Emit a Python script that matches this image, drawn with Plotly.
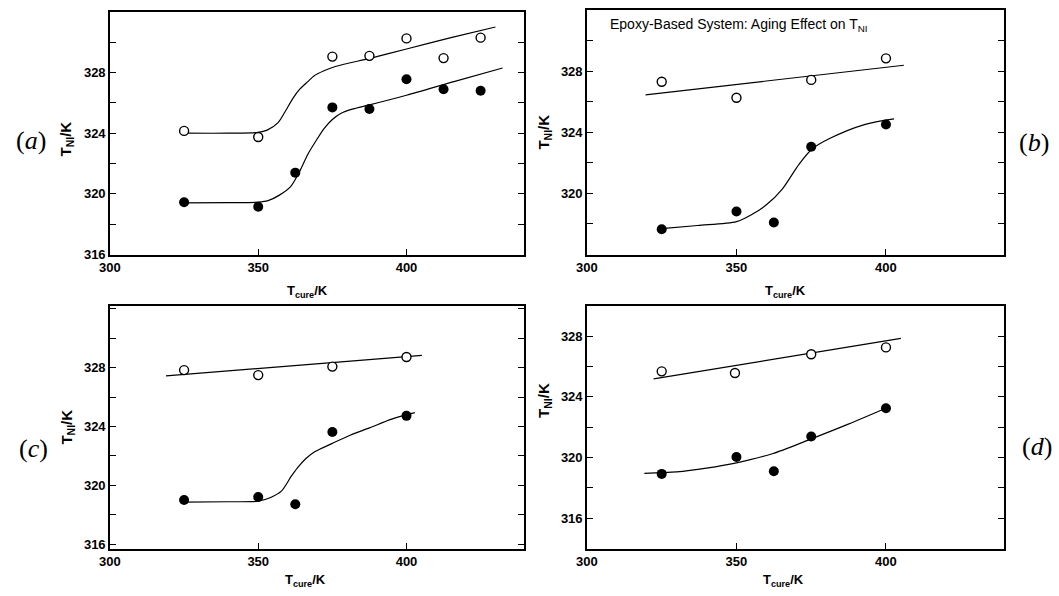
import plotly.graph_objects as go

W, H = 1059, 596

# ---------------- data ----------------
# panel (a)
a_open_x = [325, 350, 375, 387.5, 400, 412.5, 425]
a_open_y = [324.15, 323.75, 329.05, 329.1, 330.25, 328.95, 330.3]
a_fill_x = [325, 350, 362.5, 375, 387.5, 400, 412.5, 425]
a_fill_y = [319.45, 319.15, 321.4, 325.7, 325.6, 327.55, 326.9, 326.8]
a_fit_up_x = [325, 340, 350, 353, 356.7, 359, 361.7, 364, 366.7, 369, 372, 376, 388, 400, 415, 430]
a_fit_up_y = [324.0, 324.0, 324.05, 324.2, 324.7, 325.4, 326.3, 326.9, 327.4, 327.8, 328.1, 328.4,
              328.95, 329.55, 330.3, 331.0]
a_fit_lo_x = [325, 340, 350, 353.3, 357, 361, 364, 366.7, 369.5, 372.2, 375, 377.8, 382, 387.2, 400, 416, 432.4]
a_fit_lo_y = [319.4, 319.42, 319.45, 319.55, 319.9, 320.5, 321.5, 322.6, 323.5, 324.3, 324.9, 325.3,
              325.6, 325.85, 326.5, 327.4, 328.3]

# panel (b)
b_open_x = [325, 350, 375, 400]
b_open_y = [327.3, 326.25, 327.42, 328.83]
b_fill_x = [325, 350, 362.5, 375, 400]
b_fill_y = [317.65, 318.82, 318.1, 323.05, 324.5]
b_fit_up_x = [319.6, 406]
b_fit_up_y = [326.44, 328.38]
b_fit_lo_x = [325, 337, 350, 355, 360, 365.4, 370.9, 375.3, 381.3, 392.8, 402.7]
b_fit_lo_y = [317.7, 317.9, 318.15, 318.6, 319.25, 320.3, 321.9, 322.9, 323.6, 324.5, 324.87]

# panel (c)
c_open_x = [325, 350, 375, 400]
c_open_y = [327.83, 327.49, 328.07, 328.72]
c_fill_x = [325, 350, 362.5, 375, 400]
c_fill_y = [319.0, 319.2, 318.71, 323.62, 324.72]
c_fit_up_x = [318.9, 405.2]
c_fit_up_y = [327.44, 328.83]
c_fit_lo_x = [325, 340, 350, 354, 357.8, 361.1, 363.3, 366, 368.9, 375, 381, 387.5, 395, 402.8]
c_fit_lo_y = [318.85, 318.88, 318.92, 319.15, 319.6, 320.6, 321.2, 321.8, 322.26, 322.85, 323.4,
              323.9, 324.5, 324.94]

# panel (d)
d_open_x = [325, 349.5, 375, 400]
d_open_y = [325.68, 325.57, 326.81, 327.26]
d_fill_x = [325, 350, 362.5, 375, 400]
d_fill_y = [318.92, 320.04, 319.1, 321.39, 323.25]
d_fit_up_x = [322.3, 405]
d_fit_up_y = [325.18, 327.85]
d_fit_lo_x = [319.2, 330, 340, 350, 362, 374, 387.4, 400.5]
d_fit_lo_y = [318.95, 319.05, 319.3, 319.65, 320.25, 321.15, 322.2, 323.3]

x_ticks = [300, 350, 400]
y_ranges = {"a": [316, 332], "b": [316, 332], "c": [315.7, 332.2], "d": [314, 330]}
y_labels = {"a": [316, 320, 324, 328], "b": [320, 324, 328],
            "c": [316, 320, 324, 328], "d": [316, 320, 324, 328]}
panel_labels = ["a", "b", "c", "d"]
annot_text = "Epoxy-Based System: Aging Effect on T<sub>NI</sub>"

# ---------------- layout geometry (pixels) ----------------
boxes = {  # left, right, top, bottom in px
    "a": (100, 518, 12, 258),
    "b": (582, 1003.5, 10, 258),
    "c": (100, 518, 310, 556),
    "d": (582, 1003.5, 310, 556),
}

panels = {
    "a": (a_open_x, a_open_y, a_fill_x, a_fill_y, a_fit_up_x, a_fit_up_y, a_fit_lo_x, a_fit_lo_y),
    "b": (b_open_x, b_open_y, b_fill_x, b_fill_y, b_fit_up_x, b_fit_up_y, b_fit_lo_x, b_fit_lo_y),
    "c": (c_open_x, c_open_y, c_fill_x, c_fill_y, c_fit_up_x, c_fit_up_y, c_fit_lo_x, c_fit_lo_y),
    "d": (d_open_x, d_open_y, d_fill_x, d_fill_y, d_fit_up_x, d_fit_up_y, d_fit_lo_x, d_fit_lo_y),
}

fig = go.Figure()
tickfont = dict(family="Liberation Sans, Arial, sans-serif", size=13, color="black", weight="bold")
layout = {}

for i, key in enumerate(panel_labels):
    n = i + 1
    xa = "x" if n == 1 else f"x{n}"
    ya = "y" if n == 1 else f"y{n}"
    ox, oy, fx, fy, ux, uy, lx, ly = panels[key]
    line = dict(color="black", width=1.2, shape="spline", smoothing=0.8)
    fig.add_trace(go.Scatter(x=ux, y=uy, mode="lines", line=line, xaxis=xa, yaxis=ya, showlegend=False))
    fig.add_trace(go.Scatter(x=lx, y=ly, mode="lines", line=line, xaxis=xa, yaxis=ya, showlegend=False))
    fig.add_trace(go.Scatter(x=ox, y=oy, mode="markers", xaxis=xa, yaxis=ya, showlegend=False,
                             marker=dict(symbol="circle", size=9, color="white",
                                         line=dict(color="black", width=1.4))))
    fig.add_trace(go.Scatter(x=fx, y=fy, mode="markers", xaxis=xa, yaxis=ya, showlegend=False,
                             marker=dict(symbol="circle", size=10, color="black",
                                         line=dict(color="black", width=0))))

    l, r, t, b = boxes[key]
    yr = y_ranges[key]
    yt = list(range(int(yr[0]) + (int(yr[0]) % 2), int(yr[1]) + 1, 2))
    yt = [v for v in yt if yr[0] <= v <= yr[1]]
    ytext = [str(v) if v in y_labels[key] else "" for v in yt]
    layout["xaxis" if n == 1 else f"xaxis{n}"] = dict(
        domain=[l / W, r / W], range=[300, 439.5], anchor=ya,
        tickvals=x_ticks, ticktext=[str(v) for v in x_ticks],
        ticks="inside", ticklen=6, tickwidth=1.2, tickcolor="black",
        showline=True, linecolor="black", linewidth=1.5, mirror=True,
        showgrid=False, zeroline=False, tickfont=tickfont,
    )
    layout["yaxis" if n == 1 else f"yaxis{n}"] = dict(
        domain=[1 - b / H, 1 - t / H], range=yr, anchor=xa,
        tickvals=yt, ticktext=ytext,
        ticks="inside", ticklen=6, tickwidth=1.2, tickcolor="black",
        showline=True, linecolor="black", linewidth=1.5, mirror="ticks",
        showgrid=False, zeroline=False, tickfont=tickfont,
    )

annotations = []
ytitle_font = dict(family="Liberation Sans, Arial, sans-serif", size=15, color="black", weight="bold")
xtitle_font = dict(family="Liberation Sans, Arial, sans-serif", size=13, color="black", weight="bold")
# y-axis titles
for (cx, cy) in [(56, 141), (539, 134), (57, 433), (539, 406)]:
    annotations.append(dict(text="T<sub>NI</sub>/K", x=cx / W, y=1 - cy / H, xref="paper", yref="paper",
                            showarrow=False, textangle=-90, font=ytitle_font,
                            xanchor="center", yanchor="middle"))
# x-axis titles
for (cx, cy) in [(300, 295), (783, 295), (298, 588), (781, 588)]:
    annotations.append(dict(text="T<sub>cure</sub>/K", x=cx / W, y=1 - cy / H, xref="paper", yref="paper",
                            showarrow=False, font=xtitle_font, xanchor="center", yanchor="middle"))
# panel letters
serif = dict(family="Liberation Serif, Times New Roman, serif", size=26, color="black")
for lab, (cx, cy) in zip(panel_labels, [(20, 142), (1034, 144), (23, 455), (1037, 453)]):
    annotations.append(dict(text=f"(<i>{lab}</i>)", x=cx / W, y=1 - cy / H, xref="paper", yref="paper",
                            showarrow=False, font=serif, xanchor="center", yanchor="middle"))
# panel (b) caption
annotations.append(dict(text=annot_text, x=603 / W, y=1 - 25 / H, xref="paper", yref="paper",
                        showarrow=False, xanchor="left", yanchor="middle",
                        font=dict(family="Liberation Sans, Arial, sans-serif", size=14, color="black")))

fig.update_layout(
    width=W, height=H, margin=dict(l=0, r=0, t=0, b=0),
    paper_bgcolor="white", plot_bgcolor="white",
    showlegend=False, annotations=annotations, **layout,
)

fig.write_html("out.html")
